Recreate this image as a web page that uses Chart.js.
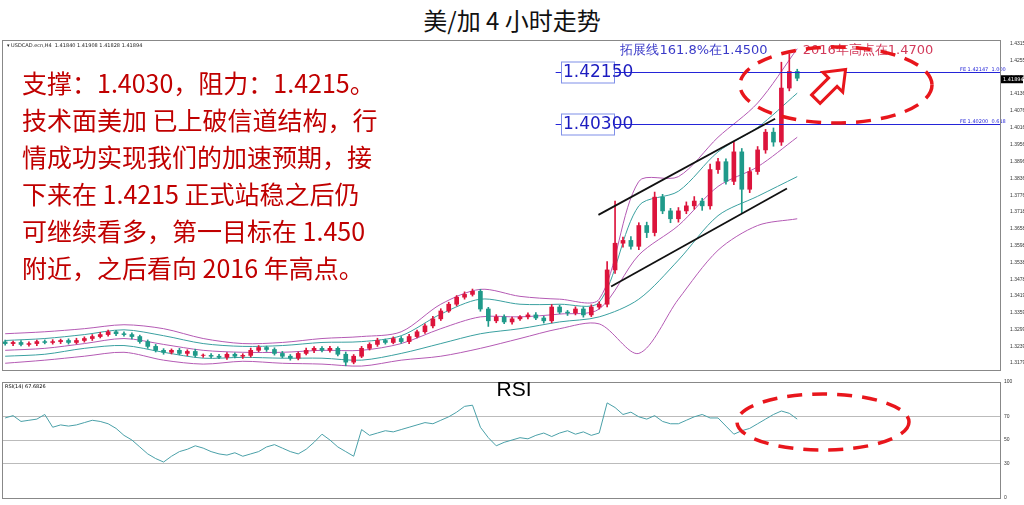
<!DOCTYPE html>
<html>
<head>
<meta charset="utf-8">
<script src="https://cdn.jsdelivr.net/npm/chart.js@4"></script>
<style>
  body { margin: 0; width: 1024px; height: 505px; background: #fff; overflow: hidden; position: relative; font-family: "Noto Sans CJK SC", sans-serif; }
  #title { position: absolute; top: 2px; left: 0; width: 1024px; text-align: center; font-size: 24px; color: #111; }
  #mainWrap { position: absolute; left: 0; top: 35px; width: 1024px; height: 340px; }
  #rsiWrap { position: absolute; left: 0; top: 375px; width: 1024px; height: 130px; }
  #note { position: absolute; left: 22px; top: 64px; font-size: 25px; line-height: 37px; color: #c00000; white-space: pre; }
</style>
</head>
<body>
<div id="title">美/加 4 小时走势</div>
<div id="mainWrap"><canvas id="mainChart"></canvas></div>
<div id="rsiWrap"><canvas id="rsiChart"></canvas></div>
<div id="note">支撑：1.4030，阻力：1.4215。
技术面美加 已上破信道结构，行
情成功实现我们的加速预期，接
下来在 1.4215 正式站稳之后仍
可继续看多，第一目标在 1.450
附近，之后看向 2016 年高点。</div>
<script>
// Data (USDCAD H4)
const firstOpen = 1.3255;
const closes = [1.3249,1.3253,1.3246,1.3249,1.3256,1.3253,
  1.3256,1.3260,1.3253,1.3260,
  1.3267,1.3274,1.3281,1.3291,1.3284,
  1.3281,1.3274,1.3256,1.3239,1.3225,
  1.3218,1.3225,1.3214,1.3221,1.3207,
  1.3207,1.3204,1.3200,1.3211,1.3204,
  1.3207,1.3225,1.3235,1.3228,1.3214,
  1.3204,1.3197,1.3214,1.3225,1.3232,
  1.3225,1.3232,1.3211,1.3183,1.3204,
  1.3232,1.3246,1.3260,1.3253,1.3267,
  1.3256,1.3274,1.3291,1.3312,1.3337,
  1.3365,1.3389,1.3414,1.3424,1.3435,
  1.3372,1.3330,1.3344,1.3326,1.3337,
  1.3344,1.3351,1.3340,1.3330,1.3379,
  1.3361,1.3358,1.3372,1.3351,1.3379,
  1.3389,
  1.3511,1.3606,1.3616,1.3595,1.3669,1.3644,1.3770,1.3721,1.3693,1.3721,
  1.3739,1.3756,1.3739,1.3868,1.3896,1.3826,1.3931,1.3798,1.3861,1.3938,
  1.4001,1.3966,1.4158,1.4217,1.4193];
// wick lengths in pips above / below the body
const wickHi = [6,5,7,6,5,6,7,5,6,8,6,7,8,6,5,7,6,5,6,7,
  6,5,7,6,8,5,6,7,6,5,6,8,7,5,6,7,6,5,8,6,
  6,7,5,8,6,7,6,8,5,6,7,8,6,7,9,8,7,6,9,8,
  7,6,8,7,6,5,7,8,6,9,7,6,8,7,8,9,
  30,150,12,14,10,12,18,10,9,12,14,16,10,20,12,10,35,12,14,12,
  10,15,92,63,8];
const wickLo = [6,7,5,6,7,5,6,7,6,5,6,7,5,6,7,6,8,6,7,6,
  7,6,5,8,6,7,6,5,7,6,8,6,5,7,6,6,7,6,5,8,
  6,7,6,13,6,5,6,7,6,5,6,7,5,6,7,6,5,6,7,6,
  8,20,7,6,8,6,7,6,8,7,6,9,7,8,6,7,
  10,12,14,10,12,18,12,10,14,12,10,12,16,12,14,10,12,84,12,10,
  12,15,12,10,9];
const bandX = [0,5,10,15,20,25,30,35,40,45,50,55,60,65,70,75,80,85,90,95,100];
const bandOuterUp = [1.3284,1.3291,1.3302,1.3316,1.3302,1.3267,1.3249,1.3253,1.3267,1.3274,1.3291,1.3389,1.3442,1.3417,1.3407,1.3407,1.3826,1.3843,1.3983,1.4105,1.4298];
const bandInnerUp = [1.3260,1.3267,1.3281,1.3298,1.3277,1.3249,1.3239,1.3242,1.3253,1.3256,1.3277,1.3354,1.3407,1.3389,1.3389,1.3396,1.3739,1.3791,1.3931,1.4018,1.4140];
const bandMid = [1.3225,1.3232,1.3249,1.3267,1.3246,1.3225,1.3218,1.3218,1.3225,1.3225,1.3249,1.3302,1.3344,1.3344,1.3354,1.3372,1.3564,1.3669,1.3808,1.3878,1.3983];
const bandInnerLow = [1.3204,1.3211,1.3232,1.3242,1.3218,1.3197,1.3200,1.3197,1.3197,1.3190,1.3214,1.3249,1.3284,1.3302,1.3326,1.3344,1.3407,1.3546,1.3704,1.3773,1.3843];
const bandOuterLow = [1.3179,1.3190,1.3204,1.3218,1.3190,1.3176,1.3186,1.3179,1.3176,1.3169,1.3190,1.3204,1.3232,1.3267,1.3302,1.3319,1.3214,1.3407,1.3581,1.3669,1.3693];
const rsi = [69,71,66,67,68,72,61,63,62,63,
  65,67,66,64,60,54,50,44,38,34,
  31,36,40,42,45,43,40,38,37,39,
  36,38,40,44,46,43,40,38,42,48,
  55,50,44,40,36,59,54,56,58,57,
  59,61,63,65,64,67,70,74,79,80,
  61,52,45,48,50,52,51,54,56,53,
  56,58,55,57,54,56,
  82,78,72,74,70,68,71,66,64,64,67,70,72,69,69,62,55,58,60,64,68,72,75,73,68];
const priceTicks = [1.43150,1.42550,1.41965,1.41365,1.40765,1.40165,1.39565,1.38965,1.38365,1.37760,1.37180,1.36580,1.35980,1.35380,1.34780,1.34190,1.33595,1.32995,1.32396,1.31795];
const rsiTicks = [0,30,50,70,100];
const support = 1.4030, resistance = 1.4215, lastPrice = 1.41894;
// channel lines [x index, price]
const channelUpper = [[74.9,1.3707],[97.2,1.4049]];
const channelLower = [[76.5,1.3452],[98.7,1.3801]];

const UP = '#dc143c', DOWN = '#1f9a8a';
const X_MIN = -0.4, X_MAX = 125.6;

const opens = closes.map((c, i) => i ? closes[i - 1] : firstOpen);
const wicks = [], bodies = [], colors = [];
closes.forEach((c, i) => {
    const o = opens[i];
    const top = Math.max(o, c), bot = Math.min(o, c);
    wicks.push({ x: i, y: [bot - wickLo[i] / 10000, top + wickHi[i] / 10000] });
    bodies.push({ x: i, y: [bot, Math.max(top, bot + 0.00008)] });
    colors.push(c >= o ? UP : DOWN);
});
const band = (arr, color) => ({
    type: 'line', data: arr.map((v, k) => ({ x: bandX[k], y: v })),
    borderColor: color, borderWidth: 1, pointRadius: 0, tension: 0.3, order: 3
});

const framePlugin = {
    id: 'frame',
    afterDraw(chart) {
        const { ctx, chartArea: a } = chart;
        ctx.save();
        ctx.strokeStyle = '#888';
        ctx.lineWidth = 1;
        ctx.strokeRect(a.left + 0.5, a.top + 0.5, a.width, a.height);
        ctx.restore();
    }
};

function ellipse(ctx, cx, cy, rx, ry) {
    ctx.save();
    ctx.strokeStyle = '#e8161c';
    ctx.lineWidth = 3.5;
    ctx.setLineDash([15, 10]);
    ctx.beginPath();
    ctx.ellipse(cx, cy, rx, ry, 0, 0, Math.PI * 2);
    ctx.stroke();
    ctx.restore();
}

const annotPlugin = {
    id: 'annot',
    afterDatasetsDraw(chart) {
        const { ctx, scales: { x, y }, chartArea: a } = chart;
        ctx.save();
        // support / resistance
        [[resistance, '1.42150', 'FE 1.42147  1.000'], [support, '1.40300', 'FE 1.40200  0.618']].forEach(([v, lbl, fe]) => {
            const py = Math.round(y.getPixelForValue(v)) + 0.5;
            ctx.strokeStyle = '#2424d8';
            ctx.lineWidth = 1;
            ctx.beginPath(); ctx.moveTo(x.getPixelForValue(69.5), py); ctx.lineTo(a.right, py); ctx.stroke();
            ctx.font = '17px "DejaVu Sans"';
            ctx.fillStyle = '#fff';
            ctx.fillRect(561, py - 11, 53, 21);
            ctx.strokeStyle = '#7f8fe8';
            ctx.strokeRect(561.5, py - 10.5, 53, 21);
            ctx.fillStyle = '#1c1cc0';
            ctx.textBaseline = 'middle';
            ctx.fillText(lbl, 563, py);
            ctx.font = '5px "DejaVu Sans"';
            ctx.fillStyle = '#2424d8';
            ctx.fillText(fe, a.right - 40, py - 3);
        });
        // channel
        ctx.strokeStyle = '#111';
        ctx.lineWidth = 1.8;
        [channelUpper, channelLower].forEach(([p, q]) => {
            ctx.beginPath();
            ctx.moveTo(x.getPixelForValue(p[0]), y.getPixelForValue(p[1]));
            ctx.lineTo(x.getPixelForValue(q[0]), y.getPixelForValue(q[1]));
            ctx.stroke();
        });
        // texts
        ctx.font = '13px "DejaVu Sans"';
        ctx.textBaseline = 'middle';
        ctx.fillStyle = '#3a3ac8';
        ctx.textAlign = 'center';
        ctx.fillText('拓展线161.8%在1.4500', 694, 16);
        ctx.fillStyle = '#d23a5a';
        ctx.fillText('2016年高点在1.4700', 868, 16);
        // ellipse + arrow
        ellipse(ctx, 836, 50, 96, 38);
        ctx.translate(830, 50);
        ctx.rotate(-Math.PI / 4);
        ctx.strokeStyle = '#e8161c';
        ctx.lineWidth = 3;
        ctx.fillStyle = '#fff';
        ctx.beginPath();
        ctx.moveTo(-20, -6); ctx.lineTo(4, -6); ctx.lineTo(4, -14); ctx.lineTo(22, 0);
        ctx.lineTo(4, 14); ctx.lineTo(4, 6); ctx.lineTo(-20, 6); ctx.closePath();
        ctx.fill(); ctx.stroke();
        ctx.restore();
        // last price label
        ctx.save();
        const ly = y.getPixelForValue(lastPrice);
        ctx.fillStyle = '#000';
        ctx.fillRect(a.right + 1, ly - 4, 22, 8);
        ctx.fillStyle = '#fff';
        ctx.font = '5px "DejaVu Sans"';
        ctx.textBaseline = 'middle';
        ctx.fillText('1.41894', a.right + 3, ly);
        ctx.fillStyle = '#222';
        ctx.fillText('▾ USDCAD.ecn,H4  1.41840 1.41908 1.41828 1.41894', a.left + 5, a.top + 6);
        ctx.restore();
    }
};

new Chart(document.getElementById('mainChart'), {
    type: 'bar',
    data: {
        datasets: [
            { data: wicks, backgroundColor: colors, barThickness: 1, grouped: false, order: 2 },
            { data: bodies, backgroundColor: colors, barThickness: 4, grouped: false, order: 1 },
            band(bandOuterUp, '#b45ab4'),
            band(bandInnerUp, '#3aa0a0'),
            band(bandMid, '#b45ab4'),
            band(bandInnerLow, '#3aa0a0'),
            band(bandOuterLow, '#b45ab4')
        ]
    },
    options: {
        responsive: true, maintainAspectRatio: false, animation: false,
        layout: { padding: { top: 1, bottom: 2, left: 2 } },
        plugins: { legend: { display: false }, tooltip: { enabled: false } },
        scales: {
            x: { type: 'linear', min: X_MIN, max: X_MAX, offset: false, display: false },
            y: {
                position: 'right', min: 1.3155, max: 1.4329,
                grid: { display: false },
                border: { color: '#888' },
                afterBuildTicks: s => { s.ticks = priceTicks.map(v => ({ value: v })); },
                afterFit: s => { s.width = 24; },
                ticks: { font: { size: 5 }, color: '#333', padding: 2, callback: v => v.toFixed(5) }
            }
        }
    },
    plugins: [framePlugin, annotPlugin]
});

const rsiAnnot = {
    id: 'rsiAnnot',
    afterDraw(chart) {
        const { ctx, chartArea: a } = chart;
        ctx.save();
        ctx.font = '21px "Liberation Sans"';
        ctx.fillStyle = '#000';
        ctx.textAlign = 'center';
        ctx.textBaseline = 'middle';
        ctx.fillText('RSI', 514, a.top + 8);
        ctx.font = '5px "DejaVu Sans"';
        ctx.textAlign = 'left';
        ctx.fillText('RSI(14) 67.6826', a.left + 3, a.top + 5);
        ctx.restore();
        ellipse(ctx, 823, 47, 86, 28);
    }
};

new Chart(document.getElementById('rsiChart'), {
    type: 'line',
    data: {
        datasets: [{
            data: rsi.map((v, i) => ({ x: i, y: v })),
            borderColor: '#4aa0a8', borderWidth: 1, pointRadius: 0
        }]
    },
    options: {
        responsive: true, maintainAspectRatio: false, animation: false,
        layout: { padding: { top: 6, bottom: 4, left: 2 } },
        plugins: { legend: { display: false }, tooltip: { enabled: false } },
        scales: {
            x: { type: 'linear', min: X_MIN, max: X_MAX, display: false },
            y: {
                position: 'right', min: 0, max: 100,
                border: { color: '#888' },
                grid: {
                    color: ctx => [30, 50, 70].includes(ctx.tick.value) ? '#bbb' : 'transparent',
                    lineWidth: 1, drawTicks: false
                },
                afterBuildTicks: s => { s.ticks = rsiTicks.map(v => ({ value: v })); },
                afterFit: s => { s.width = 24; },
                ticks: { font: { size: 5 }, color: '#333', padding: 4 }
            }
        }
    },
    plugins: [framePlugin, rsiAnnot]
});
</script>
</body>
</html>
